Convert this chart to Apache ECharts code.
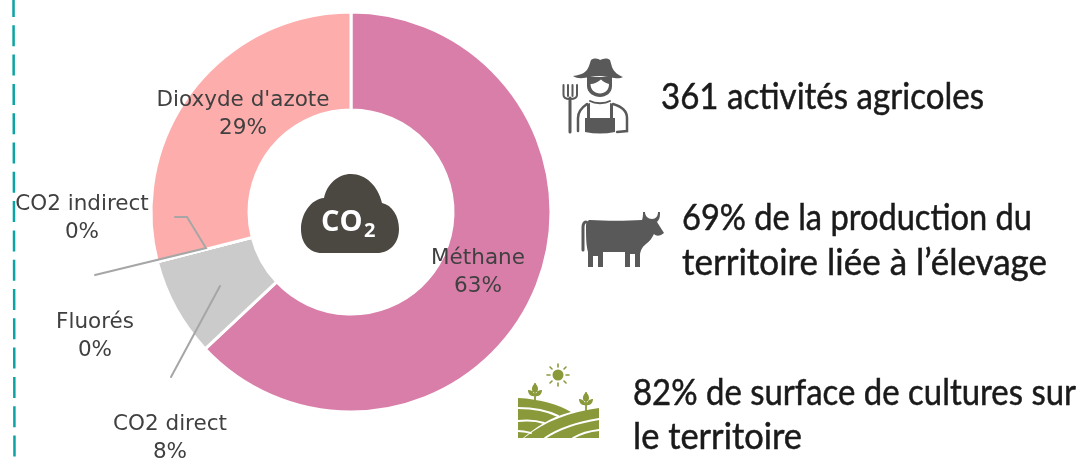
<!DOCTYPE html>
<html>
<head>
<meta charset="utf-8">
<script src="https://cdn.jsdelivr.net/npm/echarts@6/dist/echarts.min.js"></script>
<style>
    html, body { margin: 0; padding: 0; background: #fff; }
    #main { width: 1080px; height: 460px; }
</style>
</head>
<body>
<div id="main"></div>
<script>
var categories = ['Méthane', 'CO2 direct', 'Fluorés', 'CO2 indirect', "Dioxyde d'azote"];
var shares = [63, 8, 0, 0, 29];
var colors = ['#d87ea9', '#cbcbcb', '#a5a5a5', '#8c8c8c', '#fdaeac'];
var facts = ['361 activités agricoles', '69% de la production du', 'territoire liée à l’élevage', '82% de surface de cultures sur', 'le territoire'];

var labelFont = '"DejaVu Sans", sans-serif';
var factFont = '37px Lato, sans-serif';
var iconGrey = '#595959';
var fieldGreen = '#8a9a3b';

// where each label's centre sits, same order as categories
var labelSpots = [[478, 272], [170, 438], [95, 336], [82, 218], [243, 114]];

var measure = document.createElement('canvas').getContext('2d');

// the original face is narrower than Lato, so squeeze each line to its width
function fact(text, x, y, width) {
    measure.font = factFont;
    return {
        type: 'text', z: 10, x: x, y: y,
        scaleX: width / measure.measureText(text).width,
        style: { text: text, fill: '#1a1a1a', stroke: '#1a1a1a', lineWidth: 0.5, font: factFont, verticalAlign: 'middle' }
    };
}

// graphic component has no plain path type, so each svg path gets registered as a shape
var shapeCount = 0;
function pathType(d) {
    var name = 'iconPath' + (shapeCount++);
    echarts.graphic.registerShape(name, echarts.graphic.extendPath(d, {}));
    return name;
}

function icon(d, fill) {
    return { type: pathType(d), z: 10, style: { fill: fill } };
}

function stroke(d, color, width) {
    return { type: pathType(d), z: 10, style: { fill: 'none', stroke: color, lineWidth: width, lineCap: 'round' } };
}

var graphics = [
    // teal rule on the left
    { type: 'line', z: 10, shape: { x1: 13.5, y1: -4, x2: 14.5, y2: 460 },
      style: { stroke: '#0ba3a3', lineWidth: 2.5, lineDash: [21, 8.3] } },

    // leader lines
    stroke('M175 217 L187 217 L206 248 L95 275', '#a6a6a6', 2),
    stroke('M220 286 L171 377', '#a6a6a6', 2),

    // CO2 cloud
    icon('M322 253 C309 253 301 243 301 229 C301 214 311 199 324 198 C327 184 338 174 351 174 C366 174 378 186 382 203 C392 205 399 216 399 229 C399 243 390 253 377 253 Z', '#4b4741'),
    { type: 'text', z: 11, x: 321, y: 223,
      style: { text: 'CO', fill: '#fff', font: 'bold 29px "Open Sans", sans-serif', verticalAlign: 'middle' } },
    { type: 'text', z: 11, x: 364, y: 231,
      style: { text: '2', fill: '#fff', font: 'bold 20px "Open Sans", sans-serif', verticalAlign: 'middle' } },

    // farmer
    icon('M573 76 C582 75 587 72 589 66 L591 60 C595 57 599 59 600 60 C603 59 606 57 610 60 L612 67 C614 72 618 75 623 77 C618 80 612 77 600 76 C590 76 580 81 573 76 Z', iconGrey),
    icon('M587 77 L612 77 L612 86 C612 93 606 97 600 97 C594 97 587 93 587 86 Z M590.500 84 C590.500 90 595 93.500 600 93.500 C605 93.500 609 90 609 84 C606 83 603 82 601 79.500 C598 82 594 84 590.500 84 Z', iconGrey),
    stroke('M590 101 C595 104 605 104 610 101', iconGrey, 2),
    icon('M587 104 L590 103 L590 118 L610 118 L610 103 L613 104 L613 118 L615 118 L615 132 C605 134 595 134 585 132 L585 118 L587 118 Z', iconGrey),
    stroke('M578 131 L578 118 C578 110 584 106 587 104', iconGrey, 2.5),
    stroke('M613 104 C620 106 627 110 627 118 L627 131 L617 132', iconGrey, 2.5),
    stroke('M570 132 L570 98', iconGrey, 3),
    stroke('M563.500 85 L563.500 95 C563.500 98 567 99 570 99 C574 99 577 98 577 95 L577 85 M568 85 L568 96 M572.500 85 L572.500 96', iconGrey, 2),

    // cow
    icon('M590 220 C606 221 626 221 642 220 C643 217 643 215 643 212 L645 212 C645 216 648 219 652 219 C656 219 658 216 658 212 L660 212 C660 216 660 219 657 222 L664 233 L661 235 C658 236 656 236 654 234 C652 238 650 241 646 244 C642 247 641 250 640 254 L640 267 L635 267 L635 254 L630 254 L630 267 L625 267 L625 252 L603 252 L603 267 L598 267 L598 256 L593 256 L593 267 L588 267 L588 252 C586 245 586 235 586 226 C586 222 588 220 590 220 Z', iconGrey),
    stroke('M586 222 C583 222 583 225 583 228 L583 250', iconGrey, 3),

    // fields and sun
    icon('M518 398 C540 399 560 405 571 412 C550 417 535 428 523 438 L518 438 Z', fieldGreen),
    icon('M524 438 C545 421 570 412 599 408 L599 438 Z', fieldGreen),
    stroke('M518 408 C535 408 550 412 558 416 M518 421 C528 420 538 421 544 423 M518 431 C523 431 527 432 531 433', '#fff', 2),
    stroke('M545 438 C560 428 580 422 599 419 M573 438 C580 434 590 431 599 430', '#fff', 2),
    { type: 'circle', z: 10, shape: { cx: 558, cy: 375, r: 5.5 }, style: { fill: fieldGreen } },
    stroke('M558 364 L558 367 M558 383 L558 386 M547 375 L550 375 M566 375 L569 375 M550 367 L552 369 M564 381 L566 383 M566 367 L564 369 M552 381 L550 383', fieldGreen, 1.6),
    stroke('M535 384 L535 402 M586 393 L586 412', fieldGreen, 1.8),
    icon('M535 383 C538 386 539 389 537 392 L533 392 C531 389 532 386 535 383 Z M529 390 C532 390 534 392 535 396 C531 397 528 394 528 390 Z M541 390 C538 390 536 392 535 396 C539 397 542 394 542 390 Z', fieldGreen),
    icon('M586 392 C589 395 590 398 588 401 L584 401 C582 398 583 395 586 392 Z M579 399 C582 399 585 401 586 405 C582 406 579 403 579 399 Z M593 399 C590 399 587 401 586 405 C590 406 593 403 593 399 Z', fieldGreen),

    // key figures
    fact(facts[0], 661, 97, 323),
    fact(facts[1], 682, 218, 350),
    fact(facts[2], 682, 263, 365),
    fact(facts[3], 633, 393, 443),
    fact(facts[4], 633, 437, 169)
];

var pieData = categories.map(function (name, i) {
    return { name: name, value: shares[i], itemStyle: { color: colors[i] } };
});

var option = {
    animation: false,
    backgroundColor: '#fff',
    graphic: { elements: graphics },
    series: [
        {
            type: 'pie',
            center: [351, 212],
            radius: [102, 200],
            startAngle: 90,
            clockwise: true,
            avoidLabelOverlap: false,
            minShowLabelAngle: 0,
            percentPrecision: 0,
            itemStyle: { borderColor: '#fff', borderWidth: 3 },
            emphasis: { disabled: true },
            label: {
                show: true,
                position: 'inside',
                formatter: '{b}\n{c}%',
                color: '#404040',
                fontFamily: labelFont,
                fontSize: 21.5,
                lineHeight: 28,
                align: 'center',
                verticalAlign: 'middle'
            },
            labelLine: { show: false },
            labelLayout: function (params) {
                var spot = labelSpots[params.dataIndex];
                return { x: spot[0], y: spot[1], align: 'center', verticalAlign: 'middle' };
            },
            data: pieData
        }
    ]
};

var myChart = echarts.init(document.getElementById('main'), null, { renderer: 'canvas' });
myChart.setOption(option);
</script>
</body>
</html>
